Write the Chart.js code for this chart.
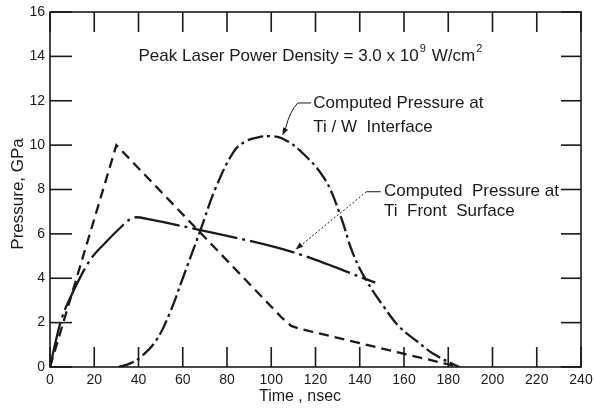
<!DOCTYPE html>
<html>
<head>
<meta charset="utf-8">
<script src="https://cdn.jsdelivr.net/npm/chart.js@4.4.0/dist/chart.umd.min.js"></script>
<style>
  html, body { margin: 0; background: #fff; }
  #wrap { width: 595px; height: 408px; }
</style>
</head>
<body>
<div id="wrap"><canvas id="chart"></canvas></div>
<script>
// axis ticks
const xTicks = [0, 20, 40, 60, 80, 100, 120, 140, 160, 180, 200, 220, 240];
const yTicks = [0, 2, 4, 6, 8, 10, 12, 14, 16];

// computed pressure at Ti front surface
const frontTime = [0, 2, 5, 10, 18, 25, 32, 36, 39, 45, 68, 109, 147];
const frontPressure = [0, 0.9, 2.1, 3.3, 4.8, 5.6, 6.3, 6.65, 6.75, 6.65, 6.17, 5.2, 3.8];

// computed pressure at Ti/W interface
const interfaceTime = [31, 36, 41, 48, 54, 60, 68, 75, 83, 88, 94, 100, 105, 113, 124, 131, 137, 143, 151, 158, 166, 174, 185];
const interfacePressure = [0, 0.15, 0.45, 1.2, 2.4, 4.0, 6.17, 8.1, 9.7, 10.15, 10.35, 10.4, 10.3, 9.75, 8.5, 6.9, 5.1, 3.9, 2.7, 1.8, 1.15, 0.55, 0];

// dashed pulse curve
const pulseTime = [0, 30, 105, 109, 113, 185];
const pulsePressure = [0, 10, 2.2, 1.85, 1.72, 0];

const ink = '#1a1a1a';
const pts = (xs, ys) => xs.map((t, i) => ({ x: t, y: ys[i] }));

function line(ctx, x1, y1, x2, y2) {
  ctx.beginPath(); ctx.moveTo(x1, y1); ctx.lineTo(x2, y2); ctx.stroke();
}

function arrow(ctx, fx, fy, tx, ty) {
  const ang = Math.atan2(ty - fy, tx - fx);
  ctx.beginPath();
  ctx.moveTo(tx, ty);
  ctx.lineTo(tx - 8 * Math.cos(ang - 0.35), ty - 8 * Math.sin(ang - 0.35));
  ctx.lineTo(tx - 8 * Math.cos(ang + 0.35), ty - 8 * Math.sin(ang + 0.35));
  ctx.closePath(); ctx.fill();
}

// frame, inward ticks, titles and notes
const frame = {
  id: 'frame',
  afterDraw(c) {
    const { ctx, chartArea: a, scales: { x, y } } = c;
    ctx.save();
    ctx.strokeStyle = ink; ctx.fillStyle = ink;
    ctx.lineWidth = 1.6;
    ctx.strokeRect(a.left, a.top, a.right - a.left, a.bottom - a.top);
    xTicks.forEach(v => {
      const px = x.getPixelForValue(v);
      line(ctx, px, a.bottom, px, a.bottom - 20);
      line(ctx, px, a.top, px, a.top + 20);
    });
    yTicks.forEach(v => {
      const py = y.getPixelForValue(v);
      line(ctx, a.left, py, a.left + 22, py);
      line(ctx, a.right, py, a.right - 20, py);
    });

    // axis titles
    ctx.textBaseline = 'middle';
    ctx.textAlign = 'center';
    ctx.font = '16px "Liberation Sans", Arial, sans-serif';
    ctx.fillText('Time , nsec', x.getPixelForValue(113), 397);
    ctx.save();
    ctx.translate(18, y.getPixelForValue(7.8));
    ctx.rotate(-Math.PI / 2);
    ctx.font = '17px "Liberation Sans", Arial, sans-serif';
    ctx.fillText('Pressure, GPa', 0, 0);
    ctx.restore();

    // peak power note
    ctx.textAlign = 'left';
    ctx.font = '17px "Liberation Sans", Arial, sans-serif';
    let tx = x.getPixelForValue(40), ty = y.getPixelForValue(14);
    const part1 = 'Peak Laser Power Density = 3.0 x 10';
    ctx.fillText(part1, tx, ty);
    tx += ctx.measureText(part1).width + 1;
    ctx.font = '11px "Liberation Sans", Arial, sans-serif';
    ctx.fillText('9', tx, ty - 7);
    tx += ctx.measureText('9').width + 6;
    ctx.font = '17px "Liberation Sans", Arial, sans-serif';
    ctx.fillText('W/cm', tx, ty);
    tx += ctx.measureText('W/cm').width + 1;
    ctx.font = '11px "Liberation Sans", Arial, sans-serif';
    ctx.fillText('2', tx, ty - 7);

    // curve labels
    ctx.font = '17px "Liberation Sans", Arial, sans-serif';
    ctx.fillText('Computed Pressure at', x.getPixelForValue(119), y.getPixelForValue(11.9));
    ctx.fillText('Ti / W  Interface', x.getPixelForValue(119), y.getPixelForValue(10.8));
    ctx.fillText('Computed  Pressure at', x.getPixelForValue(151), y.getPixelForValue(7.9));
    ctx.fillText('Ti  Front  Surface', x.getPixelForValue(151), y.getPixelForValue(7.0));

    // leader lines
    ctx.lineWidth = 1;
    const l1y = y.getPixelForValue(11.9);
    const l1a = x.getPixelForValue(112), l1b = x.getPixelForValue(118);
    line(ctx, l1a, l1y, l1b, l1y);
    const t1x = x.getPixelForValue(105), t1y = y.getPixelForValue(10.45);
    ctx.beginPath();
    ctx.moveTo(l1a, l1y);
    ctx.quadraticCurveTo(l1a - 8, l1y + 8, t1x + 3, t1y - 6);
    ctx.stroke();
    arrow(ctx, t1x + 6, t1y - 12, t1x, t1y);

    const l2y = y.getPixelForValue(7.9);
    const l2a = x.getPixelForValue(143), l2b = x.getPixelForValue(149.5);
    line(ctx, l2a, l2y, l2b, l2y);
    const t2x = x.getPixelForValue(111), t2y = y.getPixelForValue(5.3);
    ctx.setLineDash([2, 2]);
    line(ctx, l2a, l2y, t2x + 4, t2y - 3);
    ctx.setLineDash([]);
    arrow(ctx, l2a, l2y, t2x, t2y);
    ctx.restore();
  }
};

new Chart(document.querySelector('#chart'), {
  type: 'line',
  data: {
    datasets: [
      {
        label: 'Ti Front Surface',
        data: pts(frontTime, frontPressure),
        borderColor: ink,
        borderWidth: 2.3,
        borderDash: [46, 5, 3, 5],
        cubicInterpolationMode: 'monotone'
      },
      {
        label: 'Ti/W Interface',
        data: pts(interfaceTime, interfacePressure),
        borderColor: ink,
        borderWidth: 2.3,
        borderDash: [16, 4, 3, 4],
        tension: 0.4
      },
      {
        label: 'Pulse',
        data: pts(pulseTime, pulsePressure),
        borderColor: ink,
        borderWidth: 2.3,
        borderDash: [10, 6],
        tension: 0
      }
    ]
  },
  options: {
    responsive: true,
    maintainAspectRatio: false,
    animation: false,
    layout: { padding: { top: 12, right: 14, left: 0, bottom: 0 } },
    elements: { point: { radius: 0 } },
    plugins: { legend: { display: false }, tooltip: { enabled: false } },
    scales: {
      x: {
        type: 'linear', min: 0, max: 240,
        grid: { display: false, drawTicks: false },
        border: { display: false },
        ticks: {
          stepSize: 20, padding: 5, color: ink, maxRotation: 0,
          font: { family: '"Liberation Sans", Arial, sans-serif', size: 14 }
        },
        afterFit: s => { s.height = 41; s.paddingLeft = 0; s.paddingRight = 0; }
      },
      y: {
        min: 0, max: 16,
        grid: { display: false, drawTicks: false },
        border: { display: false },
        ticks: {
          stepSize: 2, padding: 5, color: ink,
          font: { family: '"Liberation Sans", Arial, sans-serif', size: 14 }
        },
        afterFit: s => { s.width = 50; s.paddingTop = 0; s.paddingBottom = 0; }
      }
    }
  },
  plugins: [frame]
});
</script>
</body>
</html>
